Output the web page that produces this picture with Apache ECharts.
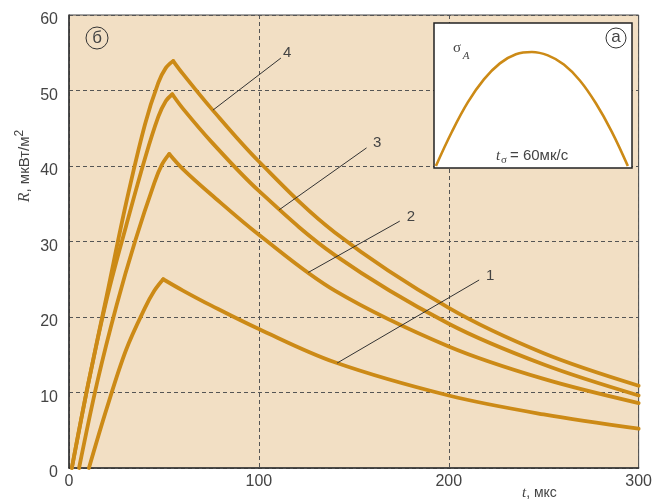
<!DOCTYPE html>
<html><head><meta charset="utf-8">
<script src="https://cdn.jsdelivr.net/npm/echarts@6/dist/echarts.min.js"></script>
<style>html,body{margin:0;padding:0;background:#fff}#c{width:655px;height:499px}</style>
</head><body><div id="c"></div>
<script>
// axis ticks
const xTicks = [0, 100, 200, 300];
const yTicks = [0, 10, 20, 30, 40, 50, 60];
const curveLabels = ['1', '2', '3', '4'];

// curve 1 (t, R)
const curve1Rise = [[10.5,0],[20,8],[30,15.6],[40,21.2],[45,23.5],[49.6,25]];
const curve1Fall = [[49.6,25],[60,23.5],[75,21.5],[100,18.4],[140,14.0],[200,9.6],[250,7.1],[300,5.2]];
// curve 2
const curve2Rise = [[5.3,0],[15,11.5],[25,21.5],[35,30.2],[45,37.8],[49,40.2],[52.8,41.6]];
const curve2Fall = [[52.8,41.6],[60,39.6],[75,36.2],[100,30.9],[140,23.5],[200,16.1],[250,11.8],[300,8.6]];
// curve 3
const curve3Rise = [[1.5,0],[10,11],[20,22.5],[30,32],[40,41],[47,46.5],[51,48.6],[54.4,49.5]];
const curve3Fall = [[54.4,49.5],[60,47.6],[75,43.2],[100,36.7],[140,28.2],[200,19.1],[250,13.7],[300,9.6]];
// curve 4
const curve4Rise = [[1.5,0],[10,11],[20,23],[30,35],[40,45.5],[47,51],[51,53],[54.9,53.9]];
const curve4Fall = [[54.9,53.9],[60,52.2],[75,47.6],[100,40.6],[140,31.2],[200,21.2],[250,15.2],[300,10.9]];

// leader lines for the curve numbers (data coordinates: from curve point to label end)
const lead1 = [[141.2,13.9],[216,24.9]];
const lead2 = [[126,25.9],[174.2,32.7]];
const lead3 = [[110.7,34.2],[156.7,42.4]];
const lead4 = [[75.8,47.4],[111.6,54.3]];

// inset (a): sigma_A pulse over t_sigma = 60
const insetT = [0, 5, 10, 15, 20, 25, 30, 35, 40, 45, 50, 55, 60];
const insetS = [0, 0.30, 0.56, 0.76, 0.90, 0.98, 1.0, 0.97, 0.89, 0.75, 0.55, 0.30, 0];

const LINE = '#CC8A16';
const TXT = '#444';
const FONT = 'Liberation Sans, Arial, sans-serif';

const curves = [
  {rise: curve1Rise, fall: curve1Fall, lead: lead1},
  {rise: curve2Rise, fall: curve2Fall, lead: lead2},
  {rise: curve3Rise, fall: curve3Fall, lead: lead3},
  {rise: curve4Rise, fall: curve4Fall, lead: lead4}
];

const series = [];
curves.forEach((c, i) => {
  series.push({
    type: 'line', xAxisIndex: 0, yAxisIndex: 0, data: c.rise, smooth: 0.35,
    symbol: 'none', lineStyle: {color: LINE, width: 3.8, cap: 'round', join: 'round'}, z: 3
  });
  series.push({
    type: 'line', xAxisIndex: 0, yAxisIndex: 0, data: c.fall, smooth: 0.35,
    symbol: 'none', lineStyle: {color: LINE, width: 3.8, cap: 'round', join: 'round'}, z: 3,
    markLine: {
      silent: true, symbol: ['none', 'none'], animation: false,
      lineStyle: {color: '#333', width: 1, type: 'solid'},
      label: {show: true, position: 'end', formatter: curveLabels[i], color: TXT, fontSize: 15, fontFamily: FONT, distance: 8},
      data: [[{coord: c.lead[0]}, {coord: c.lead[1]}]]
    }
  });
});
series.push({
  type: 'line', xAxisIndex: 1, yAxisIndex: 1, smooth: 0.4,
  data: insetT.map((t, k) => [t, insetS[k]]),
  symbol: 'none', lineStyle: {color: LINE, width: 2.6}, z: 40
});

const chart = echarts.init(document.getElementById('c'));
chart.setOption({
  animation: false,
  grid: [
    {left: 69, right: 16, top: 15, bottom: 31, show: true, backgroundColor: '#F2DFC4', borderColor: '#444', borderWidth: 1},
    {left: 434, top: 23, width: 198, height: 145, show: false}
  ],
  xAxis: [
    {type: 'value', gridIndex: 0, min: xTicks[0], max: xTicks[xTicks.length - 1], interval: xTicks[1] - xTicks[0],
      axisLine: {show: true, onZero: false, lineStyle: {color: '#333', width: 1.5}},
      axisTick: {show: false},
      axisLabel: {color: TXT, fontSize: 16, fontFamily: FONT, margin: 6},
      splitLine: {show: true, lineStyle: {type: [4, 3], color: '#555', width: 1}}},
    {type: 'value', gridIndex: 1, min: -0.6, max: 61.3, show: false, splitLine: {show: false}}
  ],
  yAxis: [
    {type: 'value', gridIndex: 0, min: yTicks[0], max: yTicks[yTicks.length - 1], interval: yTicks[1] - yTicks[0],
      axisLine: {show: true, onZero: false, lineStyle: {color: '#333', width: 1.5}},
      axisTick: {show: false},
      axisLabel: {color: TXT, fontSize: 16, fontFamily: FONT, margin: 11, verticalAlign: 'top', lineHeight: 10},
      splitLine: {show: true, lineStyle: {type: [4, 3], color: '#555', width: 1}}},
    {type: 'value', gridIndex: 1, min: -0.0175, max: 1.254, show: false, splitLine: {show: false}}
  ],
  graphic: [
    {type: 'rect', z: 30, shape: {x: 434, y: 23, width: 198, height: 145},
      style: {fill: '#fff', stroke: '#222', lineWidth: 1.5}},
    {type: 'circle', z: 50, shape: {cx: 97, cy: 38, r: 11}, style: {fill: 'none', stroke: '#333', lineWidth: 1}},
    {type: 'text', z: 50, x: 97, y: 38, style: {text: 'б', font: '17px ' + FONT, fill: TXT, textAlign: 'center', textVerticalAlign: 'middle'}},
    {type: 'circle', z: 50, shape: {cx: 616, cy: 38, r: 10}, style: {fill: 'none', stroke: '#333', lineWidth: 1}},
    {type: 'text', z: 50, x: 616, y: 37, style: {text: 'а', font: '17px ' + FONT, fill: TXT, textAlign: 'center', textVerticalAlign: 'middle'}},
    {type: 'text', z: 50, x: 457, y: 48, style: {text: 'σ', font: '15px Liberation Serif, serif', fill: TXT, textAlign: 'center', textVerticalAlign: 'middle'}},
    {type: 'text', z: 50, x: 466, y: 56, style: {text: 'A', font: 'italic 11px Liberation Serif, serif', fill: TXT, textAlign: 'center', textVerticalAlign: 'middle'}},
    {type: 'text', z: 50, x: 498, y: 156, style: {text: 't', font: 'italic 15px Liberation Serif, serif', fill: TXT, textAlign: 'center', textVerticalAlign: 'middle'}},
    {type: 'text', z: 50, x: 504, y: 160, style: {text: 'σ', font: '11px Liberation Serif, serif', fill: TXT, textAlign: 'center', textVerticalAlign: 'middle'}},
    {type: 'text', z: 50, x: 510, y: 156, style: {text: '= 60мк/с', font: '15px ' + FONT, fill: TXT, textAlign: 'left', textVerticalAlign: 'middle'}},
    {type: 'text', z: 50, x: 25, y: 166, rotation: Math.PI / 2,
      style: {text: '{i|R}{n|, мкВт/м}{s|2}', fill: TXT, textAlign: 'center', textVerticalAlign: 'middle',
        rich: {
          i: {fontStyle: 'italic', fontSize: 16, fontFamily: 'Liberation Serif, serif', fill: TXT, lineHeight: 22},
          n: {fontSize: 15, fontFamily: FONT, fill: TXT, lineHeight: 22},
          s: {fontSize: 12, fontFamily: FONT, fill: TXT, lineHeight: 22, verticalAlign: 'top'}
        }}},
    {type: 'text', z: 50, x: 522, y: 493, style: {text: '{i|t}{n|, мкс}', fill: TXT, textAlign: 'left', textVerticalAlign: 'middle',
        rich: {
          i: {fontStyle: 'italic', fontSize: 15, fontFamily: 'Liberation Serif, serif', fill: TXT},
          n: {fontSize: 14, fontFamily: FONT, fill: TXT}
        }}}
  ],
  series: series
});
</script>
</body></html>
